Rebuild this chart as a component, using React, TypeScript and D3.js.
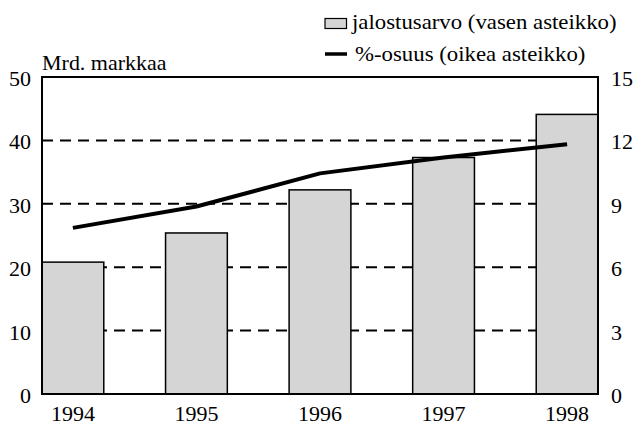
import React from "react";
import * as d3 from "d3";

const years = ["1994", "1995", "1996", "1997", "1998"];
const jalostusarvo = [20.8, 25.4, 32.2, 37.3, 44.1];
const osuus = [7.86, 8.87, 10.44, 11.19, 11.82];
const leftTicks = [0, 10, 20, 30, 40, 50];
const rightTicks = [0, 3, 6, 9, 12, 15];
const gridTicks = [10, 20, 30, 40];

const W = 634;
const H = 425;
const FONT = "Liberation Serif, serif";

const T = ({ x, y, anchor = "start", size = 20, sx = 1.1, children }: any) => (
  <text
    transform={`translate(${x},${y}) scale(${sx},1)`}
    textAnchor={anchor}
    style={{ fontFamily: FONT, fontSize: size }}
    fill="#000"
  >
    {children}
  </text>
);

const App = () => {
  const left = 42, right = 598, top = 77, bottom = 394;

  const x = d3.scaleBand().domain(years).range([left, right]).paddingInner(0.5).paddingOuter(0);
  const yL = d3.scaleLinear().domain([0, 50]).range([bottom, top]);
  const yR = d3.scaleLinear().domain([0, 15]).range([bottom, top]);

  const line = d3
    .line<number>()
    .x((_, i) => (x(years[i]) as number) + x.bandwidth() / 2)
    .y((d) => yR(d));

  return (
    <svg width={W} height={H} style={{ position: "absolute", left: 0, top: 0, background: "#fff" }}>
      <rect x={0} y={0} width={W} height={H} fill="#fff" />

      {/* dashed grid */}
      {gridTicks.map((t) => (
        <line key={t} x1={left} x2={right} y1={yL(t)} y2={yL(t)} stroke="#000" strokeWidth={2} strokeDasharray="11,7" />
      ))}

      {/* bars */}
      {jalostusarvo.map((v, i) => (
        <rect
          key={years[i]}
          x={x(years[i])}
          y={yL(v)}
          width={x.bandwidth()}
          height={bottom - yL(v)}
          fill="#d5d5d5"
          stroke="#000"
          strokeWidth={1.5}
        />
      ))}

      {/* frame */}
      <rect x={left} y={top} width={right - left} height={bottom - top} fill="none" stroke="#000" strokeWidth={2} />

      {/* line */}
      <path d={line(osuus) || ""} fill="none" stroke="#000" strokeWidth={4} strokeLinejoin="round" />

      {/* left axis */}
      {leftTicks.map((t) => (
        <T key={t} x={31} y={yL(t) + 9} anchor="end">{t}</T>
      ))}
      {/* right axis */}
      {rightTicks.map((t) => (
        <T key={t} x={611} y={yR(t) + 9}>{t}</T>
      ))}
      {/* x axis */}
      {years.map((yr) => (
        <T key={yr} x={(x(yr) as number) + x.bandwidth() / 2} y={421} anchor="middle">{yr}</T>
      ))}

      <T x={42} y={70}>Mrd. markkaa</T>

      {/* legend */}
      <rect x={325} y={18.5} width={21.5} height={10} fill="#d5d5d5" stroke="#000" strokeWidth={1.2} />
      <T x={352} y={29} sx={1.14}>jalostusarvo (vasen asteikko)</T>
      <line x1={325} x2={347} y1={54} y2={54} stroke="#000" strokeWidth={3.5} />
      <T x={355} y={61} sx={1.14}>%-osuus (oikea asteikko)</T>
    </svg>
  );
};

export default App;
